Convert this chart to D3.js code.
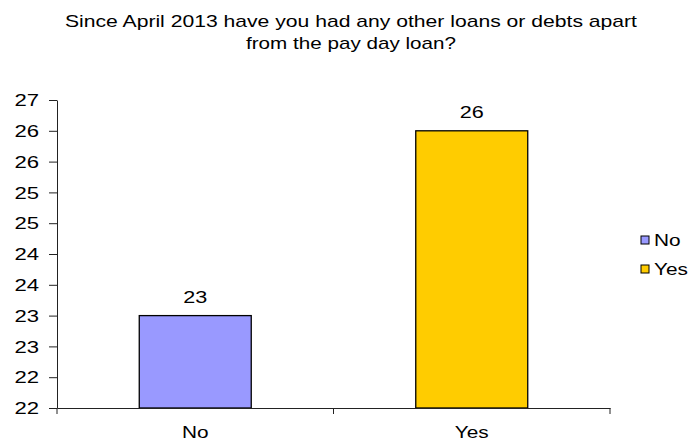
<!DOCTYPE html>
<html>
<head>
<meta charset="utf-8">
<script src="https://cdn.jsdelivr.net/npm/d3@7"></script>
<style>
  html, body { margin: 0; padding: 0; background: #fff; }
  svg { display: block; font-family: "Liberation Sans", Arial, sans-serif; }
</style>
</head>
<body>
<svg id="chart" width="700" height="444"></svg>
<script>
// ---- data ----
const titleLines = ["Since April 2013 have you had any other loans or debts apart", "from the pay day loan?"];
const categories = ["No", "Yes"];
const values = [23, 26];
const colors = ["#9999FF", "#FFCC00"];
const yTicks = [21.5, 22, 22.5, 23, 23.5, 24, 24.5, 25, 25.5, 26, 26.5];
const yDomain = [21.5, 26.5];

// ---- layout ----
const svg = d3.select("#chart");
const plot = { left: 57, right: 610, top: 100, bottom: 408 };
const stretch = 1.38;

const x = d3.scaleBand().domain(categories).range([plot.left, plot.right]).padding(0);
const y = d3.scaleLinear().domain(yDomain).range([plot.bottom, plot.top]);
const barW = x.bandwidth() * 0.405;

function widen(sel, factor) {
  sel.each(function () {
    const w = this.getComputedTextLength();
    d3.select(this).attr("textLength", w * factor).attr("lengthAdjust", "spacingAndGlyphs");
  });
}

// title
const titleWidths = [572, 210];
svg.selectAll("text.title").data(titleLines).join("text")
  .attr("class", "title")
  .attr("x", 351)
  .attr("y", (d, i) => 27 + i * 22)
  .attr("text-anchor", "middle")
  .attr("font-size", 17)
  .attr("fill", "#000")
  .attr("textLength", (d, i) => titleWidths[i])
  .attr("lengthAdjust", "spacingAndGlyphs")
  .text(d => d);

// y axis
const yAxis = svg.append("g")
  .attr("transform", `translate(${plot.left},0)`)
  .call(d3.axisLeft(y).tickValues(yTicks).tickSize(8).tickSizeOuter(0)
    .tickFormat(d => String(Math.round(d))));
yAxis.select(".domain").attr("stroke", "#222");
yAxis.selectAll(".tick line").attr("stroke", "#222");
yAxis.selectAll(".tick text")
  .attr("font-size", 16)
  .attr("font-family", "Liberation Sans, Arial, sans-serif")
  .attr("fill", "#000")
  .attr("x", -18)
  .attr("dy", "0.36em")
  .call(widen, stretch);

// bars
svg.selectAll("rect.bar").data(categories).join("rect")
  .attr("class", "bar")
  .attr("x", d => x(d) + (x.bandwidth() - barW) / 2)
  .attr("y", (d, i) => y(values[i]))
  .attr("width", barW)
  .attr("height", (d, i) => plot.bottom - y(values[i]))
  .attr("fill", (d, i) => colors[i])
  .attr("stroke", "#000")
  .attr("stroke-width", 1.3);

// x axis
const xAxis = svg.append("g")
  .attr("transform", `translate(0,${plot.bottom})`)
  .call(d3.axisBottom(x).tickSize(0).tickSizeOuter(0).tickPadding(19));
xAxis.select(".domain").attr("stroke", "#222");
xAxis.selectAll(".tick text")
  .attr("font-size", 16)
  .attr("font-family", "Liberation Sans, Arial, sans-serif")
  .attr("fill", "#000")
  .call(widen, 1.3);
// category boundary ticks
const bounds = [plot.left, ...categories.slice(1).map(c => x(c)), plot.right];
svg.selectAll("line.xtick").data(bounds).join("line")
  .attr("class", "xtick")
  .attr("x1", d => d).attr("x2", d => d)
  .attr("y1", plot.bottom).attr("y2", plot.bottom + 6)
  .attr("stroke", "#222");

// data labels
svg.selectAll("text.vlabel").data(categories).join("text")
  .attr("class", "vlabel")
  .attr("x", d => x(d) + x.bandwidth() / 2)
  .attr("y", (d, i) => y(values[i]) - 13)
  .attr("text-anchor", "middle")
  .attr("font-size", 16)
  .attr("fill", "#000")
  .text((d, i) => values[i])
  .call(widen, 1.35);

// legend
const legend = svg.append("g").attr("transform", "translate(641,236)");
const items = legend.selectAll("g").data(categories).join("g")
  .attr("transform", (d, i) => `translate(0,${i * 29})`);
items.append("rect")
  .attr("width", 8).attr("height", 8)
  .attr("fill", (d, i) => colors[i])
  .attr("stroke", "#000").attr("stroke-width", 1);
items.append("text")
  .attr("x", 13).attr("y", 10)
  .attr("font-size", 16)
  .attr("fill", "#000")
  .text(d => d)
  .call(widen, 1.3);
</script>
</body>
</html>
